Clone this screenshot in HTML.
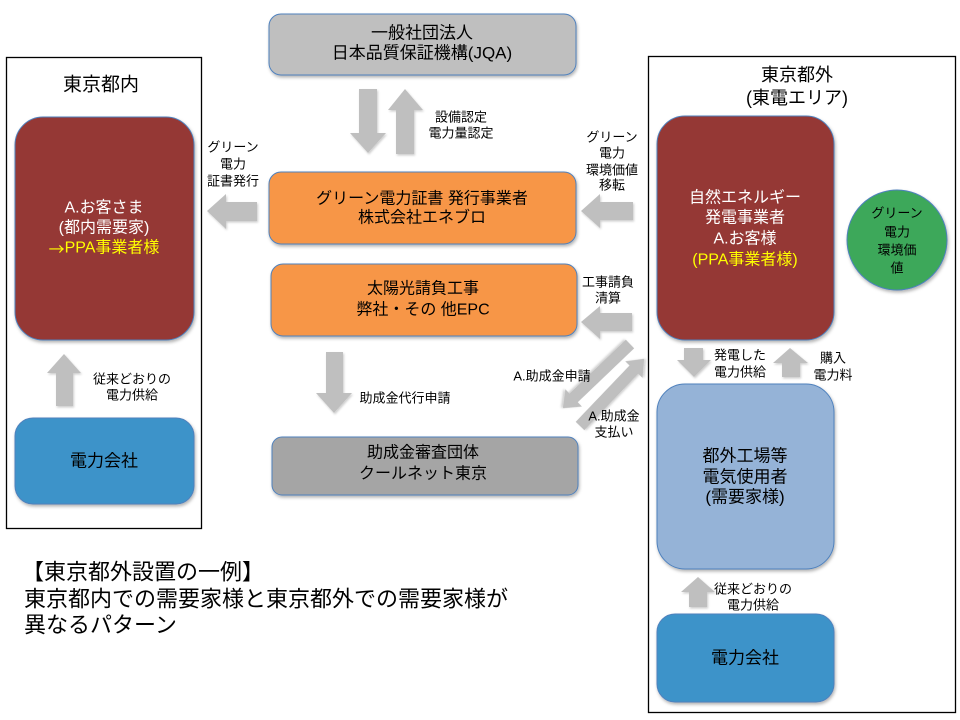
<!DOCTYPE html>
<html><head><meta charset="utf-8"><style>
html,body{margin:0;padding:0;background:#fff;}
svg{display:block;}
text{font-family:"Liberation Sans","Noto Sans CJK JP",sans-serif;dominant-baseline:central;text-anchor:middle;fill:#000;}
</style></head><body>
<svg width="960" height="720" viewBox="0 0 960 720" xmlns="http://www.w3.org/2000/svg">
<defs>
<filter id="sh" x="-10%" y="-10%" width="130%" height="130%"><feDropShadow dx="1" dy="2" stdDeviation="1.5" flood-color="#000" flood-opacity="0.3"/></filter>
<filter id="sa" x="-20%" y="-20%" width="150%" height="150%"><feDropShadow dx="1" dy="1.5" stdDeviation="1" flood-color="#000" flood-opacity="0.2"/></filter>
</defs>

<!-- containers -->
<rect x="6.5" y="57.5" width="195" height="471" fill="#fff" stroke="#000" stroke-width="1.3"/>
<rect x="648.5" y="56.5" width="307" height="656" fill="#fff" stroke="#000" stroke-width="1.3"/>

<!-- left side -->
<text x="101" y="85" font-size="19">東京都内</text>
<rect x="15" y="117" width="179" height="223" rx="28" fill="#953735" stroke="#4F81BD" stroke-width="1" filter="url(#sh)"/>
<text x="104" y="208" font-size="16" style="fill:#fff">A.お客さま</text>
<text x="104" y="228" font-size="16" style="fill:#fff">(都内需要家)</text>
<text x="104" y="248" font-size="16" style="fill:#FFFF00"><tspan style="font-family:'Noto Sans CJK JP',sans-serif">→</tspan>PPA事業者様</text>

<polygon points="64,354 81,373 73,373 73,406 56,406 56,373 47,373" fill="#BFBFBF" filter="url(#sa)"/>
<text x="132" y="379" font-size="13">従来どおりの</text>
<text x="132" y="395" font-size="13">電力供給</text>

<rect x="15" y="418" width="179" height="86" rx="18" fill="#3D93C9" stroke="#4F81BD" stroke-width="1" filter="url(#sh)"/>
<text x="104" y="461" font-size="17">電力会社</text>

<!-- center -->
<rect x="269" y="14" width="307" height="61" rx="12" fill="#BFBFBF" stroke="#4F81BD" stroke-width="1" filter="url(#sh)"/>
<text x="422" y="33" font-size="17">一般社団法人</text>
<text x="422" y="53" font-size="17">日本品質保証機構(JQA)</text>

<polygon points="359,89 377,89 377,133 386,133 368,153 350,133 359,133" fill="#BFBFBF" filter="url(#sa)"/>
<polygon points="405,89 423,110 414,110 414,154 396,154 396,110 388,110" fill="#BFBFBF" filter="url(#sa)"/>
<text x="461" y="117" font-size="13">設備認定</text>
<text x="461" y="133" font-size="13">電力量認定</text>

<rect x="269" y="172" width="307" height="72" rx="12" fill="#F79646" stroke="#4F81BD" stroke-width="1" filter="url(#sh)"/>
<text x="422" y="199" font-size="16">グリーン電力証書 発行事業者</text>
<text x="422" y="218" font-size="16">株式会社エネブロ</text>

<polygon points="207,211 226,194 226,202 257,202 257,221 226,221 226,229" fill="#BFBFBF" filter="url(#sa)"/>
<text x="233" y="147" font-size="13">グリーン</text>
<text x="233" y="164" font-size="13">電力</text>
<text x="233" y="181" font-size="13">証書発行</text>

<polygon points="581,211 600,194 600,202 633,202 633,220 600,220 600,228" fill="#BFBFBF" filter="url(#sa)"/>
<text x="612" y="137" font-size="13">グリーン</text>
<text x="612" y="153" font-size="13">電力</text>
<text x="612" y="170" font-size="13">環境価値</text>
<text x="612" y="185" font-size="13">移転</text>

<rect x="271" y="264" width="306" height="72" rx="12" fill="#F79646" stroke="#4F81BD" stroke-width="1" filter="url(#sh)"/>
<text x="423" y="289" font-size="16">太陽光請負工事</text>
<text x="423" y="310" font-size="16">弊社・その 他EPC</text>

<polygon points="581,322 600,306 600,313 632,313 632,331 600,331 600,339" fill="#BFBFBF" filter="url(#sa)"/>
<text x="608" y="282" font-size="13">工事請負</text>
<text x="608" y="298" font-size="13">清算</text>

<polygon points="326,352 343,352 343,393 352,393 334,413 316,393 326,393" fill="#BFBFBF" filter="url(#sa)"/>
<text x="405" y="398" font-size="13">助成金代行申請</text>

<rect x="272" y="437" width="306" height="58" rx="10" fill="#A5A5A5" stroke="#4F81BD" stroke-width="1" filter="url(#sh)"/>
<text x="423" y="453" font-size="16">助成金審査団体</text>
<text x="423" y="474" font-size="16">クールネット東京</text>

<!-- diagonal arrows -->
<polygon transform="translate(630,344) rotate(136.3)" points="0,-6 78,-6 78,-12 93,0 78,12 78,6 0,6" fill="#BFBFBF" filter="url(#sa)"/>
<polygon transform="translate(580,426) rotate(-46.3)" points="0,-6 78,-6 78,-12 93,0 78,12 78,6 0,6" fill="#BFBFBF" filter="url(#sa)"/>
<text x="552" y="376" font-size="13">A.助成金申請</text>
<text x="614" y="416" font-size="13">A.助成金</text>
<text x="614" y="432" font-size="13">支払い</text>

<!-- right side -->
<text x="797" y="75" font-size="18">東京都外</text>
<text x="797" y="98" font-size="18">(東電エリア)</text>

<rect x="657" y="116" width="177" height="224" rx="28" fill="#953735" stroke="#4F81BD" stroke-width="1" filter="url(#sh)"/>
<text x="745" y="198" font-size="16" style="fill:#fff">自然エネルギー</text>
<text x="745" y="218" font-size="16" style="fill:#fff">発電事業者</text>
<text x="745" y="239" font-size="16" style="fill:#fff">A.お客様</text>
<text x="745" y="260" font-size="16" style="fill:#FFFF00">(PPA事業者様)</text>

<circle cx="897" cy="240" r="50" fill="#3DA85A" stroke="#4F81BD" stroke-width="1" filter="url(#sh)"/>
<text x="897" y="213" font-size="13">グリーン</text>
<text x="897" y="232" font-size="13">電力</text>
<text x="897" y="250" font-size="13">環境価</text>
<text x="897" y="268" font-size="13">値</text>

<polygon points="684,348 703,348 703,360 711,360 694,377 677,360 684,360" fill="#BFBFBF" filter="url(#sa)"/>
<polygon points="790,348 808,363 800,363 800,377 782,377 782,363 773,363" fill="#BFBFBF" filter="url(#sa)"/>
<text x="740" y="355" font-size="13">発電した</text>
<text x="740" y="372" font-size="13">電力供給</text>
<text x="833" y="358" font-size="13">購入</text>
<text x="833" y="375" font-size="13">電力料</text>

<rect x="657" y="384" width="177" height="185" rx="28" fill="#95B3D7" stroke="#4F81BD" stroke-width="1" filter="url(#sh)"/>
<text x="745" y="456" font-size="17">都外工場等</text>
<text x="745" y="477" font-size="17">電気使用者</text>
<text x="745" y="497" font-size="17">(需要家様)</text>

<polygon points="698,577 715,592 707,592 707,607 689,607 689,592 681,592" fill="#BFBFBF" filter="url(#sa)"/>
<text x="753" y="589" font-size="13">従来どおりの</text>
<text x="753" y="605" font-size="13">電力供給</text>

<rect x="657" y="614" width="177" height="88" rx="18" fill="#3D93C9" stroke="#4F81BD" stroke-width="1" filter="url(#sh)"/>
<text x="745" y="658" font-size="17">電力会社</text>

<!-- caption -->
<text x="22" y="572" font-size="22" style="text-anchor:start">【東京都外設置の一例】</text>
<text x="24" y="599" font-size="22" style="text-anchor:start">東京都内での需要家様と東京都外での需要家様が</text>
<text x="24" y="625" font-size="22" style="text-anchor:start">異なるパターン</text>
</svg>
</body></html>
